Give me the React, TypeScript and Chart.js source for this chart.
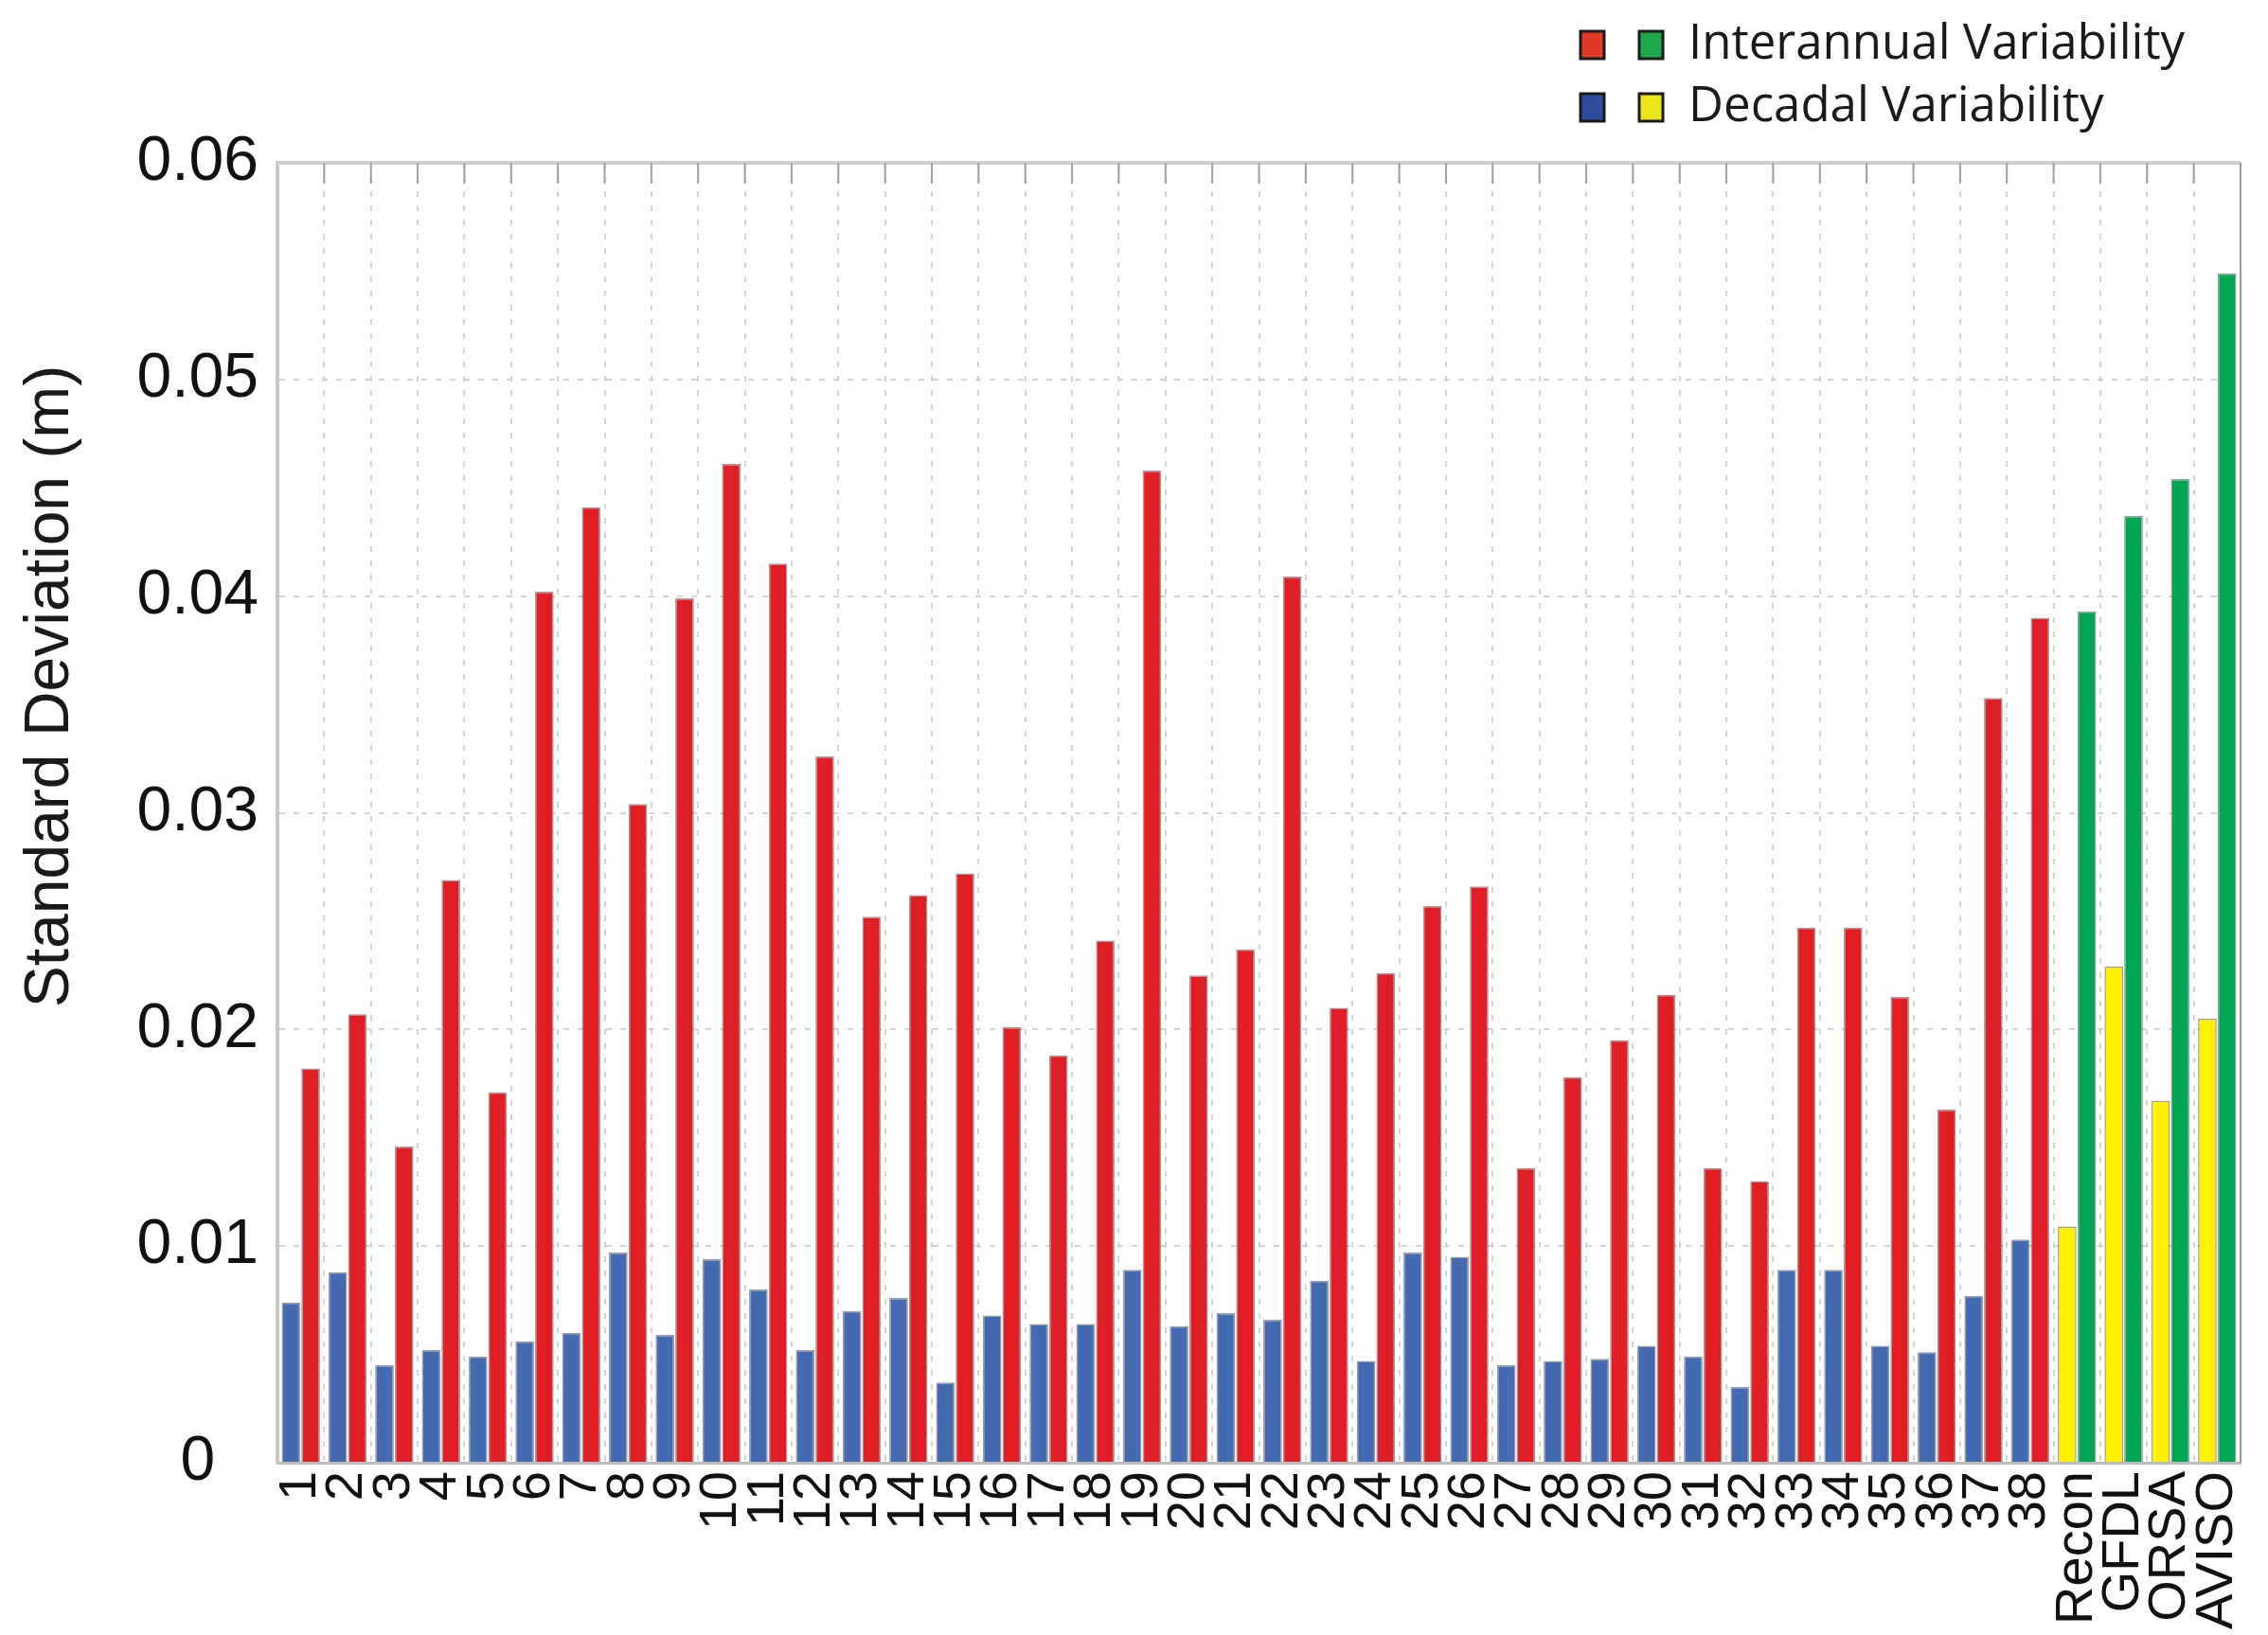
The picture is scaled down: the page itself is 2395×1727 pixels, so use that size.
import React, { useEffect, useRef } from "react";
import { Chart, registerables } from "chart.js";

Chart.register(...registerables);

// categories: 38 models, then reconstruction / reanalyses / altimetry
const categories = [
    "1", "2", "3", "4", "5", "6", "7", "8", "9", "10",
    "11", "12", "13", "14", "15", "16", "17", "18", "19", "20",
    "21", "22", "23", "24", "25", "26", "27", "28", "29", "30",
    "31", "32", "33", "34", "35", "36", "37", "38",
    "Recon", "GFDL", "ORSA", "AVISO"
];

// decadal variability (left bar of each pair)
const decadal = [
    0.0074, 0.0088, 0.0045, 0.0052, 0.0049, 0.0056, 0.0060, 0.0097, 0.0059, 0.0094,
    0.0080, 0.0052, 0.0070, 0.0076, 0.0037, 0.0068, 0.0064, 0.0064, 0.0089, 0.0063,
    0.0069, 0.0066, 0.0084, 0.0047, 0.0097, 0.0095, 0.0045, 0.0047, 0.0048, 0.0054,
    0.0049, 0.0035, 0.0089, 0.0089, 0.0054, 0.0051, 0.0077, 0.0103,
    0.0109, 0.0229, 0.0167, 0.0205
];

// interannual variability (right bar of each pair)
const interannual = [
    0.0182, 0.0207, 0.0146, 0.0269, 0.0171, 0.0402, 0.0441, 0.0304, 0.0399, 0.0461,
    0.0415, 0.0326, 0.0252, 0.0262, 0.0272, 0.0201, 0.0188, 0.0241, 0.0458, 0.0225,
    0.0237, 0.0409, 0.0210, 0.0226, 0.0257, 0.0266, 0.0136, 0.0178, 0.0195, 0.0216,
    0.0136, 0.0130, 0.0247, 0.0247, 0.0215, 0.0163, 0.0353, 0.0390,
    0.0393, 0.0437, 0.0454, 0.0549
];

const yTicks = [0, 0.01, 0.02, 0.03, 0.04, 0.05, 0.06];
const modelCount = 38;

const BLUE = "#446AB2";
const RED = "#E01E26";
const YELLOW = "#FFF100";
const GREEN = "#00A651";

const decadalColors = categories.map((_, i) => (i < modelCount ? BLUE : YELLOW));
const interannualColors = categories.map((_, i) => (i < modelCount ? RED : GREEN));

const legendRows = [
    { colors: ["#DD3B27", "#1FA84C"], text: "Interannual Variability" },
    { colors: ["#2D4E9E", "#EDE51B"], text: "Decadal Variability" }
];

// frame (top/right border + top ticks), y title and the two-box legend
const decorPlugin = {
    id: "decor",
    afterDraw(chart: any) {
        const { ctx, chartArea } = chart;
        const xScale = chart.scales.x;
        ctx.save();

        // top border
        ctx.strokeStyle = "#cfcfcf";
        ctx.lineWidth = 4;
        ctx.beginPath();
        ctx.moveTo(chartArea.left, chartArea.top);
        ctx.lineTo(chartArea.right, chartArea.top);
        ctx.stroke();

        // right border
        ctx.strokeStyle = "#9a9a9a";
        ctx.lineWidth = 2;
        ctx.beginPath();
        ctx.moveTo(chartArea.right, chartArea.top);
        ctx.lineTo(chartArea.right, chartArea.bottom);
        ctx.stroke();

        // small ticks hanging from the top border at category boundaries
        const half = (xScale.getPixelForValue(1) - xScale.getPixelForValue(0)) / 2;
        ctx.strokeStyle = "#a0a0a0";
        ctx.lineWidth = 2;
        for (let i = 0; i < categories.length - 1; i++) {
            const x = xScale.getPixelForValue(i) + half;
            ctx.beginPath();
            ctx.moveTo(x, chartArea.top);
            ctx.lineTo(x, chartArea.top + 22);
            ctx.stroke();
        }

        // y axis title
        ctx.fillStyle = "#1a1a1a";
        ctx.font = "66px 'Liberation Sans', Arial, sans-serif";
        ctx.textAlign = "center";
        ctx.textBaseline = "middle";
        ctx.translate(54, chartArea.top + 553);
        ctx.rotate(-Math.PI / 2);
        ctx.fillText("Standard Deviation (m)", 0, 0);
        ctx.restore();

        // legend
        ctx.save();
        ctx.font = "51px 'Open Sans', sans-serif";
        ctx.textAlign = "left";
        ctx.textBaseline = "middle";
        legendRows.forEach((row, r) => {
            const cy = 47 + r * 66;
            row.colors.forEach((c, k) => {
                const bx = 1669 + k * 62;
                ctx.fillStyle = c;
                ctx.fillRect(bx, cy - 14, 25, 29);
                ctx.strokeStyle = "#1a1a1a";
                ctx.lineWidth = 3;
                ctx.strokeRect(bx, cy - 14, 25, 29);
            });
            ctx.fillStyle = "#1a1a1a";
            ctx.fillText(row.text, 1783, cy);
        });
        ctx.restore();
    }
};

const App = () => {
    const chartRef = useRef<HTMLCanvasElement | null>(null);
    const chartInstance = useRef<Chart | null>(null);

    useEffect(() => {
        document.body.style.margin = "0";
        if (!chartRef.current) return;
        const ctx = chartRef.current.getContext("2d");
        if (!ctx) return;

        if (chartInstance.current) {
            chartInstance.current.destroy();
        }

        chartInstance.current = new Chart(ctx, {
            type: "bar",
            data: {
                labels: categories,
                datasets: [
                    {
                        label: "Decadal Variability",
                        data: decadal,
                        backgroundColor: decadalColors,
                        borderColor: "rgba(105,105,105,0.65)",
                        borderWidth: 1.5,
                        barPercentage: 0.95,
                        categoryPercentage: 0.84
                    },
                    {
                        label: "Interannual Variability",
                        data: interannual,
                        backgroundColor: interannualColors,
                        borderColor: "rgba(105,105,105,0.65)",
                        borderWidth: 1.5,
                        barPercentage: 0.95,
                        categoryPercentage: 0.84
                    }
                ]
            },
            options: {
                responsive: true,
                maintainAspectRatio: false,
                animation: false,
                layout: { padding: { left: 10, right: 29, top: 172, bottom: 0 } },
                plugins: {
                    legend: { display: false },
                    tooltip: { enabled: false }
                },
                scales: {
                    x: {
                        offset: true,
                        grid: {
                            offset: true,
                            color: "#d4d4d4",
                            lineWidth: 2,
                            drawTicks: false
                        },
                        border: { color: "#bdbdbd", width: 3, dash: [6, 9] },
                        ticks: {
                            autoSkip: false,
                            maxRotation: 90,
                            minRotation: 90,
                            padding: 9,
                            color: "#111",
                            font: { family: "'Liberation Sans', Arial, sans-serif", size: 56 }
                        },
                        afterFit: (scale: any) => {
                            scale.height = 182;
                            scale.paddingLeft = 0;
                            scale.paddingRight = 0;
                        }
                    },
                    y: {
                        min: yTicks[0],
                        max: yTicks[yTicks.length - 1],
                        grid: {
                            color: "#d4d4d4",
                            lineWidth: 2,
                            drawTicks: false
                        },
                        border: { color: "#c8c8c8", width: 4, dash: [6, 9] },
                        ticks: {
                            stepSize: 0.01,
                            crossAlign: "center",
                            padding: 20,
                            color: "#111",
                            font: { family: "'Liberation Sans', Arial, sans-serif", size: 66 },
                            callback: (v: any) => (Number(v) === 0 ? "0" : Number(v).toFixed(2))
                        },
                        afterFit: (scale: any) => {
                            scale.width = 283;
                        }
                    }
                }
            },
            plugins: [decorPlugin]
        });

        return () => {
            if (chartInstance.current) {
                chartInstance.current.destroy();
                chartInstance.current = null;
            }
        };
    }, []);

    return (
        <div style={{ position: "relative", width: "2395px", height: "1727px" }}>
            <canvas ref={chartRef} />
        </div>
    );
};

export default App;
